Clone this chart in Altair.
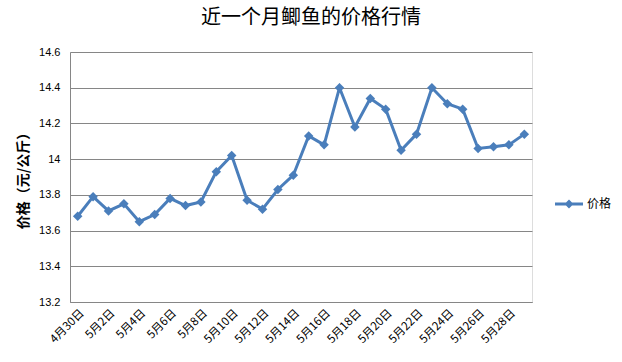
import altair as alt
import pandas as pd

dates = ["4月30日"] + [f"5月{i}日" for i in range(1, 30)]
prices = [13.68, 13.79, 13.71, 13.75, 13.65, 13.69, 13.78, 13.74, 13.76, 13.93,
          14.02, 13.77, 13.72, 13.83, 13.91, 14.13, 14.08, 14.40, 14.18, 14.34,
          14.28, 14.05, 14.14, 14.40, 14.31, 14.28, 14.06, 14.07, 14.08, 14.14]
series = ["价格"] * len(dates)
label_values = dates[::2]

df = pd.DataFrame({"日期": dates, "价格": prices, "系列": series})

BLUE = "#4A7EBB"
GRID = "#868686"
CJK = "Noto Sans CJK SC"

x = alt.X("日期:N", sort=dates, title=None,
          scale=alt.Scale(paddingInner=0, paddingOuter=0),
          axis=alt.Axis(values=label_values, labelAngle=-45, labelAlign="right",
                        labelBaseline="top", labelPadding=5, ticks=False,
                        domainColor=GRID, labelFont=CJK, labelFontSize=11.5,
                        labelColor="#000000", grid=False))
y = alt.Y("价格:Q", title="价格（元/公斤）",
          scale=alt.Scale(domain=[13.2, 14.6], nice=False, zero=False),
          axis=alt.Axis(values=[13.2, 13.4, 13.6, 13.8, 14.0, 14.2, 14.4, 14.6],
                        format=".1~f",
                        ticks=False, domain=True, domainColor=GRID, gridColor=GRID,
                        labelFont="Liberation Sans", labelFontSize=11,
                        labelColor="#000000", labelPadding=10,
                        titleFont=CJK, titleFontSize=14, titleFontWeight="bold",
                        titleColor="#000000", titlePadding=8))

legend_symbol = ("M-1,-0.11 L1,-0.11 L1,0.11 L-1,0.11 Z "
                 "M0,-0.32 L0.32,0 L0,0.32 L-0.32,0 Z")

line = alt.Chart(df).mark_line(strokeWidth=3).encode(
    x=x, y=y,
    color=alt.Color("系列:N", scale=alt.Scale(range=[BLUE]),
                    legend=alt.Legend(title=None, orient="none", legendX=485, legendY=138,
                                      symbolType=legend_symbol, symbolSize=784,
                                      symbolStrokeWidth=0, symbolFillColor=BLUE,
                                      labelFont=CJK, labelFontSize=12, labelColor="#000000",
                                      padding=0, labelOffset=4))
)
points = alt.Chart(df).mark_point(shape="diamond", filled=True, size=90, opacity=1,
                                  color=BLUE).encode(x=x, y=y)

chart = (line + points).properties(
    width=462, height=250,
    title=alt.TitleParams("近一个月鲫鱼的价格行情", font=CJK, fontSize=20,
                          fontWeight="normal", color="#000000", anchor="middle",
                          offset=18, dx=10),
    autosize=alt.AutoSizeParams(type="none"),
    padding={"left": 70, "top": 52, "right": 90, "bottom": 60},
).configure_view(stroke=None).configure(background="white")

chart.save("out.html", embed_options={"renderer": "svg", "actions": False})
